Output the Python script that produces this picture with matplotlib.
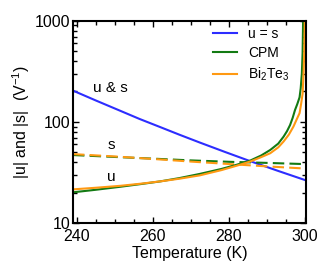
import numpy as np
import matplotlib
matplotlib.use("Agg")
import matplotlib.pyplot as plt

plt.rcParams["font.family"] = ["Liberation Sans", "DejaVu Sans"]
plt.rcParams["mathtext.default"] = "regular"

# u = s (blue)
T_us = [239.0, 245.0, 251.4, 256.5, 261.9, 267.0, 272.4, 279.0, 285.6, 293.0, 300.4]
v_us = [204, 163, 129, 107, 89, 74.7, 62.4, 50.4, 40.9, 32.7, 26.3]

# CPM solid (u) and dashed (s)
T_cpm = [239.0, 245.0, 251.4, 257.0, 262.0, 267.0, 272.4, 278.0, 282.0, 285.6,
         288.5, 290.9, 293.0, 294.4, 295.3, 296.1, 296.8, 297.4, 298.0, 298.6,
         298.9, 299.2, 299.4, 299.55]
u_cpm = [20.1, 21.3, 22.8, 24.3, 25.8, 27.8, 30.6, 34.2, 37.6, 41.4,
         46.5, 52.8, 61, 71.5, 81, 93, 110, 131, 150, 175,
         215, 300, 480, 1100]
T_cpm_s = [239.0, 250.0, 260.0, 270.0, 280.0, 290.0, 300.4]
s_cpm = [47.0, 45.0, 43.3, 41.6, 40.3, 39.3, 38.2]

# Bi2Te3 solid (u) and dashed (s)
T_bt = [239.0, 245.0, 251.4, 257.0, 262.0, 267.0, 272.4, 278.0, 282.0, 285.6,
        288.5, 290.9, 293.0, 294.4, 295.8, 297.0, 297.8, 298.6, 299.0, 299.4,
        299.65, 299.85, 300.0]
u_bt = [21.5, 22.3, 23.3, 24.5, 25.8, 27.4, 29.6, 33.3, 36.8, 40.5,
        44.8, 49, 56, 64, 75, 90, 105, 122, 150, 190,
        300, 520, 1100]
T_bt_s = [239.0, 250.0, 260.0, 270.0, 280.0, 290.0, 300.4]
s_bt = [48.0, 45.5, 43.0, 40.5, 38.3, 36.3, 34.5]

BLUE = "#2d2dff"
GREEN = "#137a13"
ORANGE = "#ff9912"

fig = plt.figure(figsize=(3.27, 2.78), dpi=100)
ax = fig.add_axes([0.222, 0.198, 0.715, 0.727])

lw = 1.5
dash = (5.5, 2.5)
ax.plot(T_us, v_us, color=BLUE, lw=lw, label="u = s")
ax.plot(T_cpm_s, s_cpm, color=GREEN, lw=lw, dashes=dash)
ax.plot(T_bt_s, s_bt, color=ORANGE, lw=lw, dashes=dash)
ax.plot(T_cpm, u_cpm, color=GREEN, lw=lw, label="CPM")
ax.plot(T_bt, u_bt, color=ORANGE, lw=lw, label="Bi$_2$Te$_3$")

ax.set_yscale("log")
ax.set_xlim(238.9, 300.4)
ax.set_ylim(10, 1000)
ax.set_xticks([240, 260, 280, 300])
ax.set_xticks(np.arange(240, 301, 5), minor=True)
ax.set_yticks([10, 100, 1000])
ax.set_yticklabels(["10", "100", "1000"])

ax.tick_params(which="both", direction="in", top=True, right=True,
               labelsize=11.5, width=1.0)
ax.tick_params(axis="x", pad=4.5)
ax.tick_params(axis="y", pad=1.5)
ax.tick_params(which="major", length=4.5)
ax.tick_params(which="minor", length=2.8)
for sp in ax.spines.values():
    sp.set_linewidth(1.5)

ax.text(248.8, 217, "u & s", fontsize=11, ha="center", va="center")
ax.text(249.0, 59, "s", fontsize=11, ha="center", va="center")
ax.text(249.2, 28.3, "u", fontsize=11, ha="center", va="center")

ax.set_xlabel("Temperature (K)", fontsize=11.5, labelpad=1)
ax.set_ylabel("|u| and |s|  (V$^{-1}$)", fontsize=11.5, labelpad=2)

ax.legend(loc="upper right", frameon=False, fontsize=10, handlelength=1.7,
          handletextpad=0.8, labelspacing=0.4, borderaxespad=0.3,
          bbox_to_anchor=(0.97, 1.02))

fig.savefig("out.png", dpi=100)
